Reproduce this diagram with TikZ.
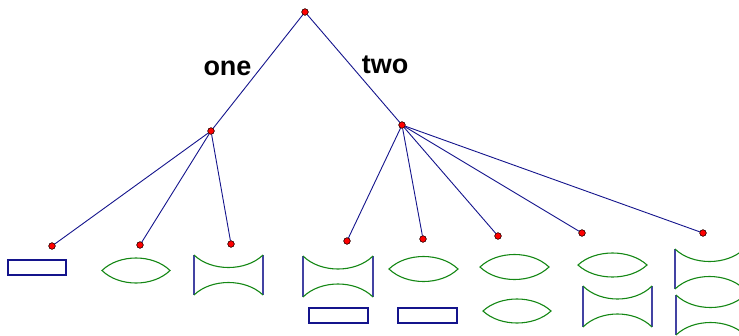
\documentclass[tikz,border=0pt]{standalone}
\usepackage{fontspec}
\setmainfont{Liberation Sans}
\definecolor{edgeblue}{RGB}{20,20,140}
\definecolor{leafgreen}{RGB}{20,135,20}
\newcommand\mylens[4]{%
  \draw[lensline] ({#1-#3/2},#2) .. controls ({#1-#3/4},{#2-#4*4/3}) and ({#1+#3/4},{#2-#4*4/3}) .. ({#1+#3/2},#2)
    .. controls ({#1+#3/4},{#2+#4*4/3}) and ({#1-#3/4},{#2+#4*4/3}) .. cycle;}
\newcommand\myhour[5]{%
  \draw[sideline] (#1,#2) -- (#1,{#2+#4});
  \draw[sideline] ({#1+#3},#2) -- ({#1+#3},{#2+#4});
  \draw[lensline] (#1,#2) .. controls ({#1+#3/4},{#2+#5*4/3}) and ({#1+3*#3/4},{#2+#5*4/3}) .. ({#1+#3},#2);
  \draw[lensline] (#1,{#2+#4}) .. controls ({#1+#3/4},{#2+#4-#5*4/3}) and ({#1+3*#3/4},{#2+#4-#5*4/3}) .. ({#1+#3},{#2+#4});}
\begin{document}
\begin{tikzpicture}[x=1pt,y=-1pt,
  dot/.style={circle,fill=red,draw=black,line width=0.4pt,inner sep=0pt,minimum size=6.5pt},
  edge/.style={draw=edgeblue,line width=0.9pt},
  lensline/.style={draw=leafgreen,line width=1.1pt},
  sideline/.style={draw=edgeblue!80,line width=1.2pt},
  boxshape/.style={draw=edgeblue,line width=1.1pt,fill=white},
  lbl/.style={font=\fontsize{27}{30}\selectfont\bfseries,anchor=base,inner sep=0pt}]
\useasboundingbox (0,0) rectangle (739,335);
% tree dots
\node[dot] (r) at (305,12) {};
\node[dot] (a) at (211,131) {};
\node[dot] (b) at (402,125) {};
\node[dot] (a1) at (52,246) {};
\node[dot] (a2) at (140,245) {};
\node[dot] (a3) at (231,244) {};
\node[dot] (b1) at (347,241) {};
\node[dot] (b2) at (423,239) {};
\node[dot] (b3) at (498,236) {};
\node[dot] (b4) at (582,233) {};
\node[dot] (b5) at (703,233) {};
\begin{scope}[on background layer/.try]
\end{scope}
\draw[edge] (r) -- (a);
\draw[edge] (r) -- (b);
\foreach \n in {a1,a2,a3} \draw[edge] (a) -- (\n);
\foreach \n in {b1,b2,b3,b4,b5} \draw[edge] (b) -- (\n);
\foreach \n in {r,a,b,a1,a2,a3,b1,b2,b3,b4,b5} \node[dot] at (\n) {};
\node[lbl] (one) at (227.5,75) {one};
\node[lbl] (two) at (385,73) {two};
% leaves
\draw[boxshape] (8,260) rectangle (66,275);
\mylens{136}{270.5}{68}{12.5}
\myhour{194}{255}{69}{40}{12.5}
\myhour{303}{256}{70}{41}{13}
\draw[boxshape] (309,308) rectangle (368,323);
\mylens{423.5}{269}{69}{12.5}
\draw[boxshape] (398,308) rectangle (457,323);
\mylens{514.5}{267}{69}{12.5}
\mylens{517}{311}{68}{12}
\mylens{612.5}{265}{69}{12}
\myhour{583}{286}{69}{41}{13}
\myhour{675}{249}{69}{40}{12.5}
\myhour{676}{295}{69}{40}{12.5}
\end{tikzpicture}
\end{document}
